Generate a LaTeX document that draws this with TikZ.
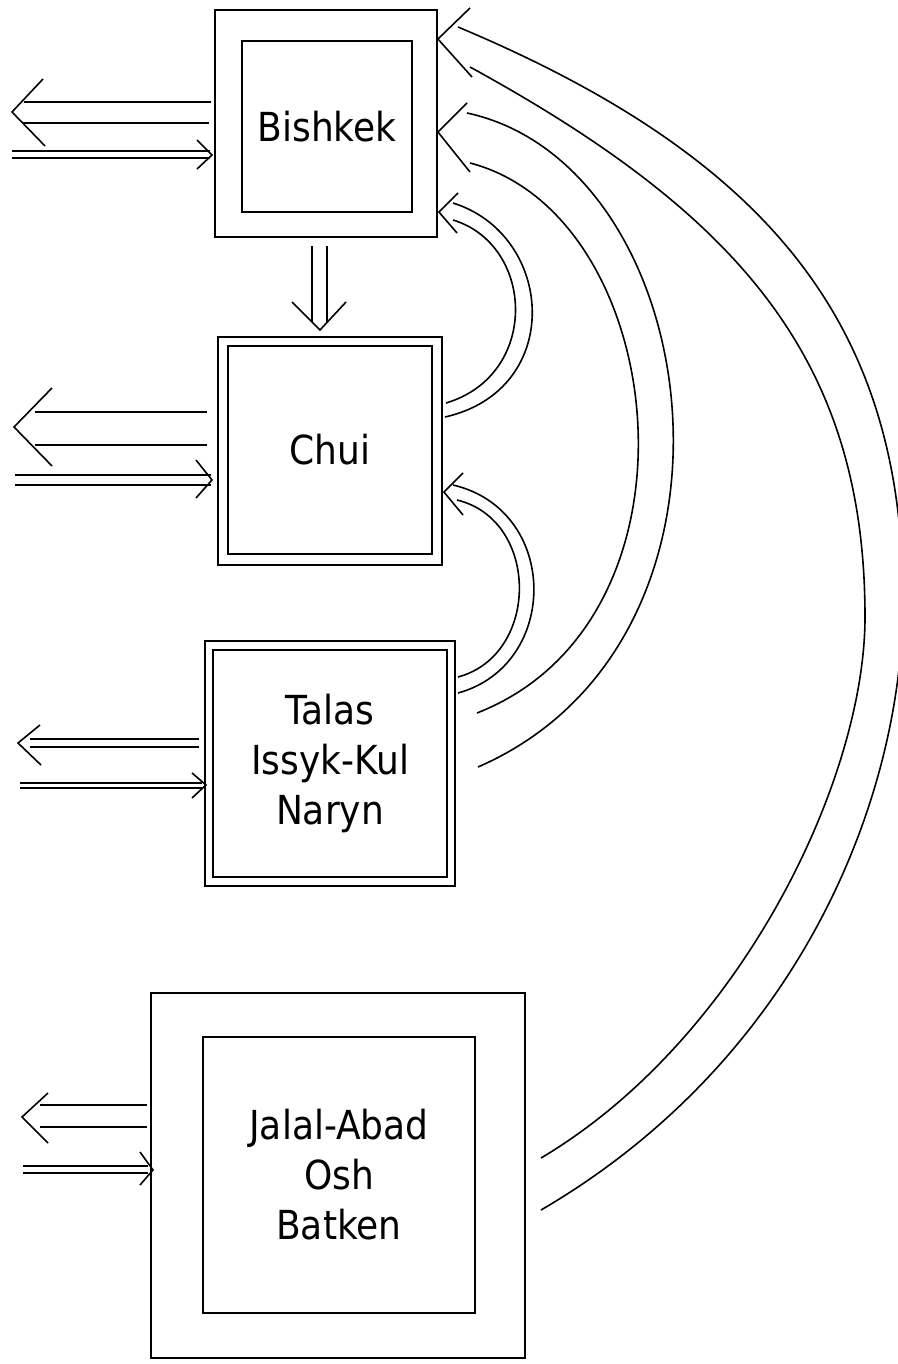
\documentclass[tikz,border=0pt]{standalone}
\usepackage{fontspec}
\newfontfamily\lbl{DejaVu Sans}[FakeStretch=0.9]
\usetikzlibrary{calc}
\begin{document}
\begin{tikzpicture}[x=1pt,y=-1pt,
  box/.style={draw, line width=1.9pt, rectangle, inner sep=0pt},
  label/.style={font=\lbl\fontsize{40}{50}\selectfont, align=center},
  flow/.style={line width=1.6pt},
  head/.style={line width=1.6pt, line join=miter},
  arc/.style={line width=1.6pt}]
\path[fill=white, use as bounding box] (0,0) rectangle (897,1364);

% boxes
\node[box, minimum width=222pt, minimum height=227pt] (bishO) at (326,123.5) {};
\node[box, label, minimum width=170pt, minimum height=171pt] (bish) at (327,126.5) {Bishkek};
\node[box, minimum width=224pt, minimum height=228pt] (chuiO) at (330,451) {};
\node[box, label, line width=2.2pt, minimum width=204pt, minimum height=208pt] (chui) at (330,450) {Chui};
\node[box, minimum width=250pt, minimum height=245pt] (talO) at (330,763.5) {};
\node[box, label, line width=2.2pt, minimum width=234pt, minimum height=227pt] (tal) at (330,763.5) {Talas\\Issyk-Kul\\Naryn};
\node[box, minimum width=374pt, minimum height=365pt] (jalO) at (338,1175.5) {};
\node[box, label, minimum width=272pt, minimum height=276pt] (jal) at (339,1175) {Jalal-Abad\\Osh\\Batken};

% ---------- left side double arrows ----------
% Bishkek out
\coordinate (bo1) at (24,102); \coordinate (bo2) at (22,123);
\draw[flow, shorten <=3pt] (bishO.west |- bo1) -- (bo1);
\draw[flow, shorten <=5pt] (bishO.west |- bo2) -- (bo2);
\coordinate (boa) at (43,79); \coordinate (bot) at (12,112); \coordinate (bob) at (45,146);
\draw[head] (boa) -- (bot) -- (bob);
% Bishkek in
\coordinate (bi1) at (12,151); \coordinate (bi2) at (12,158);
\draw[flow, shorten >=4pt] (bi1) -- (bishO.west |- bi1);
\draw[flow, shorten >=4pt] (bi2) -- (bishO.west |- bi2);
\coordinate (bia) at (197,140); \coordinate (bit) at (212,155); \coordinate (bib) at (197,169);
\draw[head] (bia) -- (bit) -- (bib);

% Bishkek -> Chui
\coordinate (d1) at (312,322); \coordinate (d2) at (327,322);
\draw[flow, shorten <=8pt] (d1 |- bishO.south) -- (d1);
\draw[flow, shorten <=8pt] (d2 |- bishO.south) -- (d2);
\coordinate (dda) at (292,302); \coordinate (ddt) at (320,330); \coordinate (ddb) at (346,302);
\draw[head] (dda) -- (ddt) -- (ddb);

% Chui out
\coordinate (co1) at (35,412); \coordinate (co2) at (35,445);
\draw[flow, shorten <=10pt] (chuiO.west |- co1) -- (co1);
\draw[flow, shorten <=10pt] (chuiO.west |- co2) -- (co2);
\coordinate (coa) at (52,388); \coordinate (cot) at (14,427); \coordinate (cob) at (52,466);
\draw[head] (coa) -- (cot) -- (cob);
% Chui in
\coordinate (ci1) at (15,475); \coordinate (ci2) at (15,485);
\draw[flow, shorten >=6pt] (ci1) -- (chuiO.west |- ci1);
\draw[flow, shorten >=6pt] (ci2) -- (chuiO.west |- ci2);
\coordinate (cia) at (196,460); \coordinate (cit) at (212,480); \coordinate (cib) at (196,498);
\draw[head] (cia) -- (cit) -- (cib);

% Talas out
\coordinate (to1) at (30,739); \coordinate (to2) at (30,747);
\draw[flow, shorten <=5pt] (talO.west |- to1) -- (to1);
\draw[flow, shorten <=5pt] (talO.west |- to2) -- (to2);
\coordinate (toa) at (40,725); \coordinate (tot) at (18,743); \coordinate (tob) at (41,765);
\draw[head] (toa) -- (tot) -- (tob);
% Talas in
\coordinate (ti1) at (20,783); \coordinate (ti2) at (20,788);
\draw[flow, shorten >=2pt] (ti1) -- (talO.west |- ti1);
\draw[flow, shorten >=2pt] (ti2) -- (talO.west |- ti2);
\coordinate (tia) at (192,773); \coordinate (tit) at (206,785); \coordinate (tib) at (192,798);
\draw[head] (tia) -- (tit) -- (tib);

% Jalal out
\coordinate (jo1) at (40,1105); \coordinate (jo2) at (40,1127);
\draw[flow, shorten <=3pt] (jalO.west |- jo1) -- (jo1);
\draw[flow, shorten <=3pt] (jalO.west |- jo2) -- (jo2);
\coordinate (joa) at (48,1093); \coordinate (jot) at (22,1117); \coordinate (job) at (48,1143);
\draw[head] (joa) -- (jot) -- (job);
% Jalal in
\coordinate (ji1) at (23,1166); \coordinate (ji2) at (23,1173);
\draw[flow, shorten >=2pt] (ji1) -- (jalO.west |- ji1);
\draw[flow, shorten >=2pt] (ji2) -- (jalO.west |- ji2);
\coordinate (jia) at (140,1152); \coordinate (jit) at (153,1170); \coordinate (jib) at (140,1185);
\draw[head] (jia) -- (jit) -- (jib);

% ---------- right side curved double arrows ----------
% Jalal-Abad -> Bishkek
\coordinate (A1) at (458,27);  \coordinate (A2) at (541,1210);
\coordinate (B1) at (470,67);  \coordinate (B2) at (541,1158);
\draw[arc] (A2) .. controls (798,1060) and (903,800) .. (903,600)
               .. controls (903,330) and (775,160) .. (A1);
\draw[arc] (B2) .. controls (740,1040) and (865,780) .. (865,617)
               .. controls (865,360) and (740,215) .. (B1);
\coordinate (h1a) at (470,8); \coordinate (h1b) at (472,77);
\draw[head] (h1a) -- ($(bishO.north east)+(0,30)$) -- (h1b);

% Talas -> Bishkek
\coordinate (C1) at (467,113); \coordinate (C2) at (478,767);
\coordinate (D1) at (470,163); \coordinate (D2) at (477,713);
\draw[arc] (C2) .. controls (770,640) and (708,165) .. (C1);
\draw[arc] (D2) .. controls (715,620) and (670,215) .. (D1);
\coordinate (h2a) at (467,103); \coordinate (h2b) at (470,172);
\draw[head] (h2a) -- ($(bishO.north east)+(0,123)$) -- (h2b);

% Chui -> Bishkek
\coordinate (E1) at (453,203); \coordinate (E2) at (445,417);
\coordinate (F1) at (453,220); \coordinate (F2) at (446,403);
\draw[arc] (E2) .. controls (565,390) and (555,235) .. (E1);
\draw[arc] (F2) .. controls (540,375) and (535,245) .. (F1);
\coordinate (h3a) at (458,193); \coordinate (h3b) at (457,233);
\draw[head] (h3a) -- ($(bishO.north east)+(1,203)$) -- (h3b);

% Talas -> Chui
\coordinate (G1) at (453,485); \coordinate (G2) at (458,693);
\coordinate (H1) at (457,500); \coordinate (H2) at (458,677);
\draw[arc] (G2) .. controls (560,665) and (560,510) .. (G1);
\draw[arc] (H2) .. controls (540,655) and (540,520) .. (H1);
\coordinate (h4a) at (463,473); \coordinate (h4b) at (463,515);
\draw[head] (h4a) -- ($(chuiO.north east)+(1,156)$) -- (h4b);
\end{tikzpicture}
\end{document}
